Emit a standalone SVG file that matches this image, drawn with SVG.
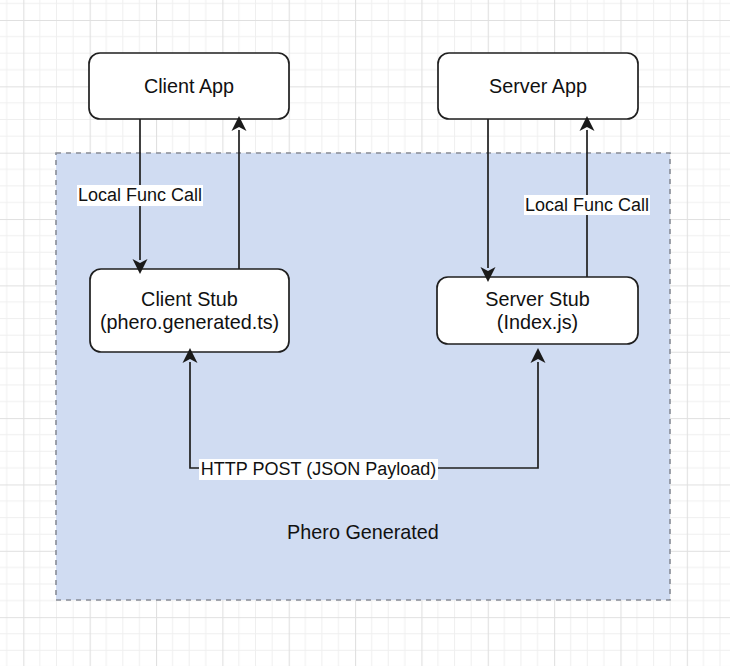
<svg xmlns="http://www.w3.org/2000/svg" width="730" height="666" viewBox="0 0 730 666">
  <defs>
    <pattern id="grid" patternUnits="userSpaceOnUse" x="23.3" y="20" width="66.35" height="66.35">
      <g stroke="#efefef" stroke-width="1">
        <line x1="16.59" y1="0" x2="16.59" y2="66.35"/>
        <line x1="33.18" y1="0" x2="33.18" y2="66.35"/>
        <line x1="49.76" y1="0" x2="49.76" y2="66.35"/>
        <line x1="0" y1="16.59" x2="66.35" y2="16.59"/>
        <line x1="0" y1="33.18" x2="66.35" y2="33.18"/>
        <line x1="0" y1="49.76" x2="66.35" y2="49.76"/>
      </g>
      <g stroke="#e0e0e0" stroke-width="1.2">
        <line x1="0.5" y1="0" x2="0.5" y2="66.35"/>
        <line x1="0" y1="0.5" x2="66.35" y2="0.5"/>
      </g>
    </pattern>
    <marker id="arr" markerUnits="userSpaceOnUse" markerWidth="18" markerHeight="18" viewBox="-11 -9 18 18" refX="-9" refY="0" orient="auto-start-reverse">
      <path d="M5,0 L-10,-7.5 L-6,0 L-10,7.5 Z" fill="#1a1a1a"/>
    </marker>
    <style>
      .node { fill: #ffffff; stroke: #1f1f1f; stroke-width: 1.7; }
      .txt { font-family: "Liberation Sans", Arial, Helvetica, sans-serif; font-size: 19.8px; fill: #111111; text-anchor: middle; }
      .lbl { font-family: "Liberation Sans", Arial, Helvetica, sans-serif; font-size: 18px; fill: #111111; text-anchor: middle; }
      .edge { fill: none; stroke: #1f1f1f; stroke-width: 1.7; }
      .lblbg { fill: #ffffff; }
    </style>
  </defs>

  <rect x="0" y="0" width="730" height="666" fill="#ffffff"/>
  <rect x="0" y="0" width="730" height="666" fill="url(#grid)"/>

  <g id="phero-generated">
    <rect x="56" y="153" width="614" height="447" fill="#d0dcf2" stroke="#888c96" stroke-width="1.6" stroke-dasharray="5 5"/>
    <text class="txt" x="363" y="539">Phero Generated</text>
  </g>

  <g id="client-app">
    <rect class="node" x="89" y="53" width="200" height="66" rx="11"/>
    <text class="txt" x="189" y="93">Client App</text>
  </g>

  <g id="server-app">
    <rect class="node" x="438" y="53" width="200" height="66" rx="11"/>
    <text class="txt" x="538" y="93">Server App</text>
  </g>

  <g id="client-stub">
    <rect class="node" x="90" y="269" width="199" height="83" rx="11"/>
    <text class="txt" x="189.5" y="306">Client Stub</text>
    <text class="txt" x="189.5" y="329">(phero.generated.ts)</text>
  </g>

  <g id="server-stub">
    <rect class="node" x="437" y="277" width="201" height="67" rx="11"/>
    <text class="txt" x="537.5" y="306">Server Stub</text>
    <text class="txt" x="537.5" y="329">(Index.js)</text>
  </g>

  <g id="connectors">
    <path class="edge" d="M140,119 L140,260" marker-end="url(#arr)"/>
    <path class="edge" d="M239,269 L239,130" marker-end="url(#arr)"/>
    <path class="edge" d="M488,119 L488,268" marker-end="url(#arr)"/>
    <path class="edge" d="M587,277 L587,130" marker-end="url(#arr)"/>
    <path class="edge" d="M190,362 L190,468 L538,468 L538,362" marker-start="url(#arr)" marker-end="url(#arr)"/>

    <rect class="lblbg" x="77" y="185" width="126" height="21"/>
    <text class="lbl" x="140" y="201">Local Func Call</text>
    <rect class="lblbg" x="524" y="195" width="126" height="20"/>
    <text class="lbl" x="587" y="211">Local Func Call</text>
    <rect class="lblbg" x="199" y="459" width="239" height="21"/>
    <text class="lbl" x="318.5" y="475">HTTP POST (JSON Payload)</text>
  </g>
</svg>
